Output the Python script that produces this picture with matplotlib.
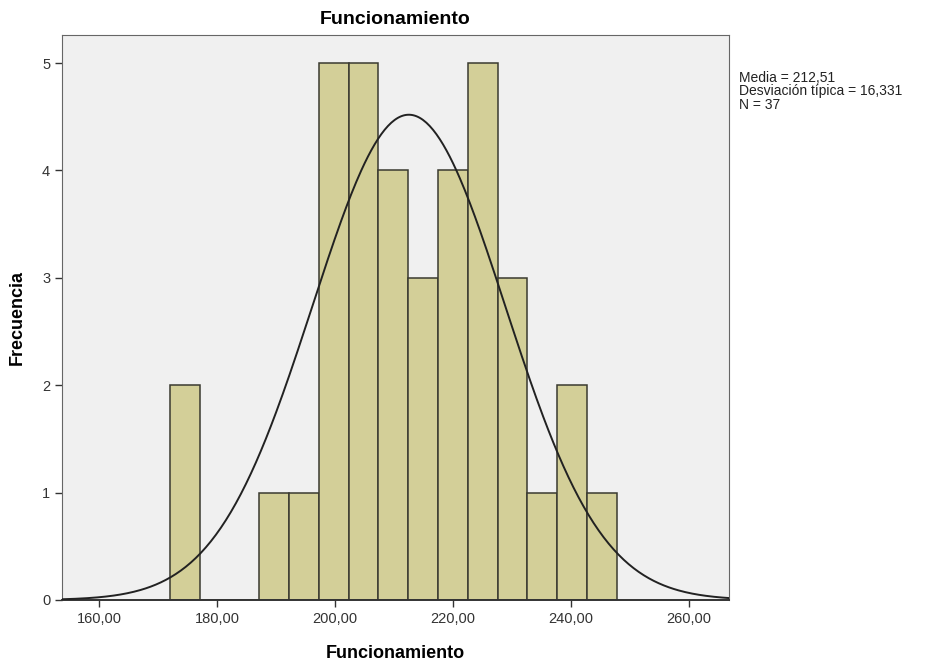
import numpy as np
import matplotlib.pyplot as plt

plt.rcParams['font.family'] = ['Liberation Sans', 'DejaVu Sans']

# histogram data
bin_start = 172.0
bin_width = 5.05
counts = [2, 0, 0, 1, 1, 5, 5, 4, 3, 4, 5, 3, 1, 2, 1]
mean, sd, n = 212.51, 16.331, 37
x_ticks = [160, 180, 200, 220, 240, 260]
y_ticks = [0, 1, 2, 3, 4, 5]

edges = bin_start + bin_width * np.arange(len(counts) + 1)

fig = plt.figure(figsize=(9.4, 6.64), dpi=100)
ax = fig.add_axes([0.066, 0.0964, 0.7095, 0.8506])
ax.set_facecolor('#f0f0f0')

ax.bar(edges[:-1], counts, width=bin_width, align='edge',
       color='#d3cf98', edgecolor='#3a3a30', linewidth=1.1, zorder=2)

# normal curve scaled to counts (nominal bin width 5)
xs = np.linspace(153.7, 266.8, 400)
pdf = n * 5 * np.exp(-0.5 * ((xs - mean) / sd) ** 2) / (sd * np.sqrt(2 * np.pi))
ax.plot(xs, pdf, color='#222222', linewidth=1.4, zorder=3)

ax.set_xlim(153.7, 266.8)
ax.set_ylim(0, 5.26)
ax.set_xticks(x_ticks)
ax.set_xticklabels([f'{t},00' for t in x_ticks])
ax.set_yticks(y_ticks)
ax.tick_params(axis='both', labelsize=10.5, colors='#333333', length=5, width=1)
for s in ax.spines.values():
    s.set_color('#666666')
ax.spines['bottom'].set_color('#333333')
ax.spines['bottom'].set_linewidth(1.4)

ax.set_title('Funcionamiento', fontsize=14, fontweight='bold', pad=8)
ax.set_xlabel('Funcionamiento', fontsize=13, fontweight='bold', labelpad=14)
ax.set_ylabel('Frecuencia', fontsize=13, fontweight='bold', labelpad=12)

fig.text(0.786, 0.893,
         f'Media = {mean:.2f}'.replace('.', ',') + '\n'
         + f'Desviación típica = {sd:.3f}'.replace('.', ',') + '\n'
         + f'N = {n}',
         fontsize=10, va='top', ha='left', linespacing=0.95, color='#222222')

fig.savefig('out.png', dpi=100)
